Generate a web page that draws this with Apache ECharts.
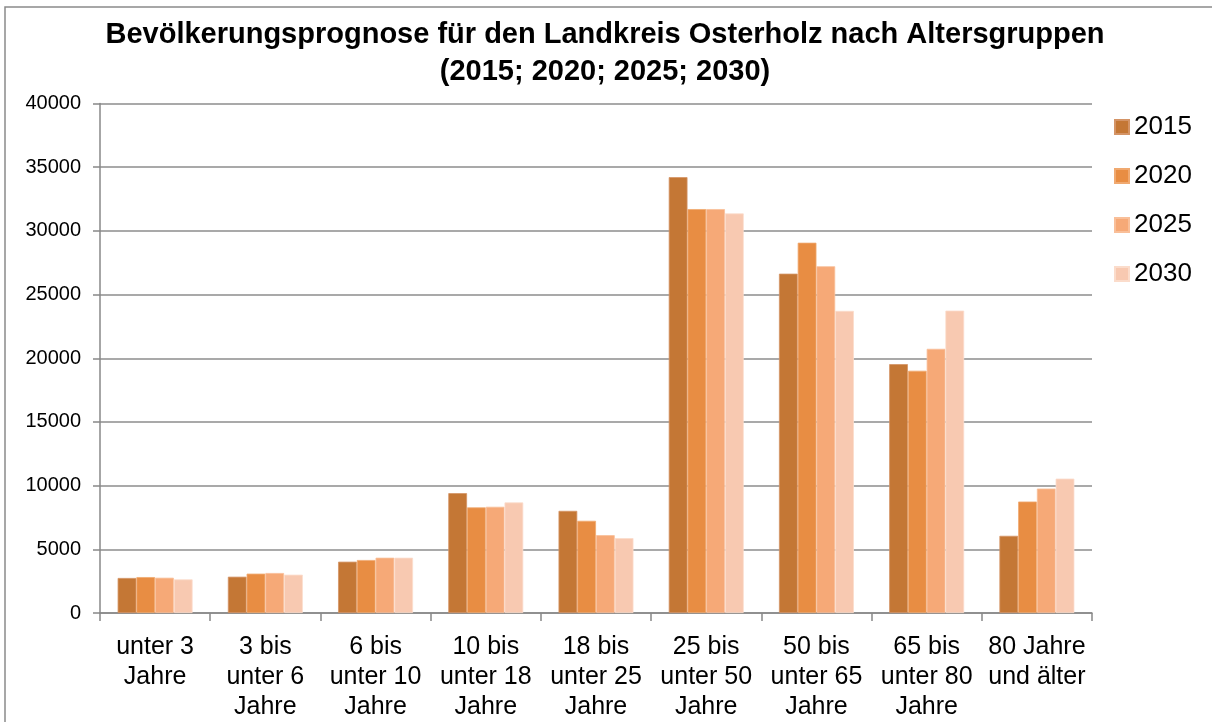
<!DOCTYPE html>
<html>
<head>
<meta charset="utf-8">
<script src="https://cdn.jsdelivr.net/npm/echarts@6/dist/echarts.min.js"></script>
<style>
html, body { margin: 0; padding: 0; background: #fff; }
#main { width: 1212px; height: 722px; }
</style>
</head>
<body>
<div id="main"></div>
<script>
// Altersgruppen
var categories = ['unter 3\nJahre', '3 bis\nunter 6\nJahre', '6 bis\nunter 10\nJahre', '10 bis\nunter 18\nJahre',
	'18 bis\nunter 25\nJahre', '25 bis\nunter 50\nJahre', '50 bis\nunter 65\nJahre', '65 bis\nunter 80\nJahre', '80 Jahre\nund älter'];
var years = ['2015', '2020', '2025', '2030'];
var v2015 = [2750, 2850, 4030, 9410, 8020, 34220, 26640, 19540, 6060];
var v2020 = [2820, 3090, 4160, 8290, 7240, 31710, 29070, 19020, 8750];
var v2025 = [2770, 3140, 4340, 8340, 6110, 31710, 27220, 20740, 9770];
var v2030 = [2640, 3010, 4340, 8680, 5880, 31370, 23720, 23740, 10550];
var yTicks = [0, 5000, 10000, 15000, 20000, 25000, 30000, 35000, 40000];

var colors = ['#C47735', '#E88D43', '#F6A977', '#F8C9B1'];
var borders = ['#D49466', '#F0A970', '#F9BF99', '#FBDCCB'];
var font = "'Liberation Sans', Arial, sans-serif";

function bar(name, values, i) {
	return {
		name: name,
		type: 'bar',
		data: values,
		barGap: 0,
		barCategoryGap: '32%',
		itemStyle: {
			color: colors[i],
			borderColor: borders[i],
			borderWidth: 0.8
		}
	};
}

var myChart = echarts.init(document.getElementById('main'));
var option = {
	animation: false,
	backgroundColor: '#fff',
	textStyle: { fontFamily: font },
	graphic: [{
		type: 'rect',
		shape: { x: 5, y: 7, width: 1300, height: 800 },
		style: { fill: 'none', stroke: '#8a8a8a', lineWidth: 1.5 },
		silent: true
	}],
	title: {
		text: 'Bevölkerungsprognose für den Landkreis Osterholz nach Altersgruppen\n(2015; 2020; 2025; 2030)',
		left: 600,
		top: 11,
		textAlign: 'center',
		textStyle: {
			fontFamily: font,
			fontSize: 29,
			fontWeight: 'bold',
			color: '#000',
			lineHeight: 37
		}
	},
	legend: {
		orient: 'vertical',
		left: 1109,
		top: 109,
		itemWidth: 14,
		itemHeight: 14,
		itemGap: 23,
		icon: 'rect',
		data: years,
		textStyle: {
			fontFamily: font,
			fontSize: 26,
			lineHeight: 25,
			color: '#000'
		}
	},
	grid: {
		left: 100,
		right: 120,
		top: 103.5,
		bottom: 109,
		containLabel: false
	},
	xAxis: {
		type: 'category',
		data: categories,
		axisLine: { show: true, lineStyle: { color: '#888', width: 1.5 } },
		axisTick: { show: true, length: 8, lineStyle: { color: '#888', width: 1.5 } },
		axisLabel: {
			interval: 0,
			margin: 19,
			fontFamily: font,
			fontSize: 25,
			lineHeight: 30,
			color: '#000'
		}
	},
	yAxis: {
		type: 'value',
		min: yTicks[0],
		max: yTicks[yTicks.length - 1],
		interval: yTicks[1] - yTicks[0],
		axisLine: { show: true, lineStyle: { color: '#888', width: 1.5 } },
		axisTick: { show: true, length: 7, lineStyle: { color: '#888', width: 1.5 } },
		splitLine: { show: true, lineStyle: { color: '#8c8c8c', width: 1.5 } },
		axisLabel: {
			margin: 19,
			fontFamily: font,
			fontSize: 20,
			color: '#000',
			formatter: function(v) { return String(v); }
		}
	},
	series: [
		bar(years[0], v2015, 0),
		bar(years[1], v2020, 1),
		bar(years[2], v2025, 2),
		bar(years[3], v2030, 3)
	]
};
myChart.setOption(option);
</script>
</body>
</html>
